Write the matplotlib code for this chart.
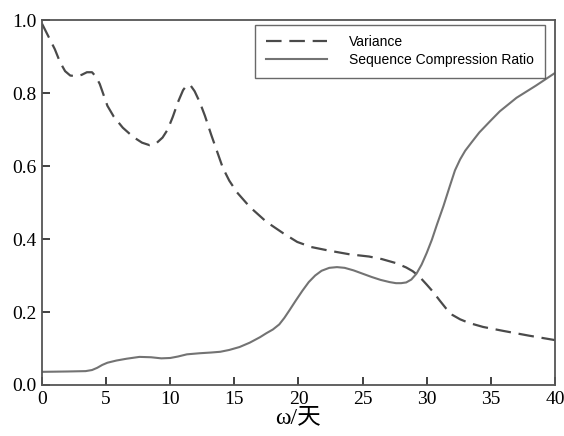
import numpy as np
import matplotlib.pyplot as plt

# ======================
# data
# ======================
var_x = [0, 0.5, 1, 1.4, 1.8, 2.2, 2.7, 3.1, 3.5, 3.9, 4.2, 4.5, 4.8, 5.1,
         5.6, 6.3, 7.1, 7.8, 8.4, 8.9, 9.4, 9.8, 10.2, 10.6, 11.0, 11.3,
         11.6, 11.9, 12.3, 12.7, 13.2, 13.7, 14.1, 14.6, 15.2, 16.2, 17.5,
         18.8, 19.9, 21, 22.4, 24, 25.5, 26.5, 27.6, 28.4, 28.9, 29.4, 30,
         30.5, 31, 31.5, 32, 32.6, 33.3, 34.4, 36, 38, 40]
var_y = [0.99, 0.955, 0.92, 0.885, 0.86, 0.848, 0.846, 0.85, 0.857, 0.857,
         0.845, 0.825, 0.795, 0.765, 0.735, 0.705, 0.68, 0.664, 0.657, 0.662,
         0.678, 0.70, 0.735, 0.775, 0.808, 0.822, 0.82, 0.805, 0.775, 0.738,
         0.685, 0.635, 0.595, 0.56, 0.528, 0.488, 0.447, 0.416, 0.392, 0.378,
         0.368, 0.358, 0.352, 0.345, 0.334, 0.322, 0.312, 0.298, 0.275, 0.255,
         0.232, 0.21, 0.192, 0.18, 0.17, 0.159, 0.148, 0.135, 0.123]

scr_x = [0, 2, 3.4, 3.9, 4.3, 4.7, 5.1, 5.8, 6.6, 7.6, 8.5, 9.3, 10, 10.6,
         11.3, 12.3, 13.2, 13.9, 14.6, 15.4, 16.2, 17, 17.5, 18, 18.5, 18.9,
         19.3, 19.8, 20.3, 20.8, 21.3, 21.8, 22.4, 23, 23.6, 24.3, 25, 25.7,
         26.4, 27.1, 27.6, 28, 28.4, 28.8, 29.2, 29.6, 30, 30.4, 30.8, 31.3,
         31.8, 32.2, 32.6, 33, 33.5, 34.1, 35, 35.7, 37, 38.5, 40]
scr_y = [0.036, 0.037, 0.038, 0.041, 0.047, 0.055, 0.061, 0.067, 0.072, 0.077,
         0.076, 0.073, 0.074, 0.078, 0.084, 0.087, 0.089, 0.091, 0.096, 0.104,
         0.116, 0.131, 0.142, 0.152, 0.166, 0.184, 0.205, 0.232, 0.258, 0.282,
         0.30, 0.313, 0.321, 0.323, 0.321, 0.314, 0.305, 0.296, 0.288, 0.282,
         0.279, 0.279, 0.281, 0.289, 0.305, 0.33, 0.362, 0.398, 0.44, 0.49,
         0.545, 0.588, 0.618, 0.642, 0.665, 0.692, 0.725, 0.75, 0.787, 0.82,
         0.855]

xticks = [0, 5, 10, 15, 20, 25, 30, 35, 40]
yticks = [0.0, 0.2, 0.4, 0.6, 0.8, 1.0]

# ======================
# figure
# ======================
fig = plt.figure(figsize=(5.64, 4.36), dpi=100)
ax = fig.add_axes([0.0745, 0.117, 0.9095, 0.837])

ax.plot(var_x, var_y, color="#4a4a4a", lw=1.6, dashes=(7, 3.5), label="Variance")
ax.plot(scr_x, scr_y, color="#737373", lw=1.5, label="Sequence Compression Ratio")

ax.set_xlim(0, 40)
ax.set_ylim(0, 1.0)
ax.set_xticks(xticks)
ax.set_yticks(yticks)
ax.set_yticklabels([f"{v:.1f}" for v in yticks])

for s in ax.spines.values():
    s.set_color("#555555")
    s.set_linewidth(1.3)

ax.tick_params(direction="in", length=6, width=1.3, color="#333333",
               labelsize=14, pad=4, top=False, right=False)
for lab in ax.get_xticklabels() + ax.get_yticklabels():
    lab.set_family("Liberation Serif")

ax.set_xlabel("ω/天", fontsize=17, labelpad=0,
              family=["Liberation Serif", "Noto Sans CJK SC"])

leg = ax.legend(loc="upper right", bbox_to_anchor=(0.985, 0.995), frameon=True,
                fancybox=False, edgecolor="#444444",
                prop={"family": "Liberation Sans", "size": 10},
                handlelength=4.4, handletextpad=1.6, borderpad=0.75,
                labelspacing=0.3, borderaxespad=0.2)
leg.get_frame().set_linewidth(1.0)

plt.savefig("out.png", dpi=100)
plt.close()
